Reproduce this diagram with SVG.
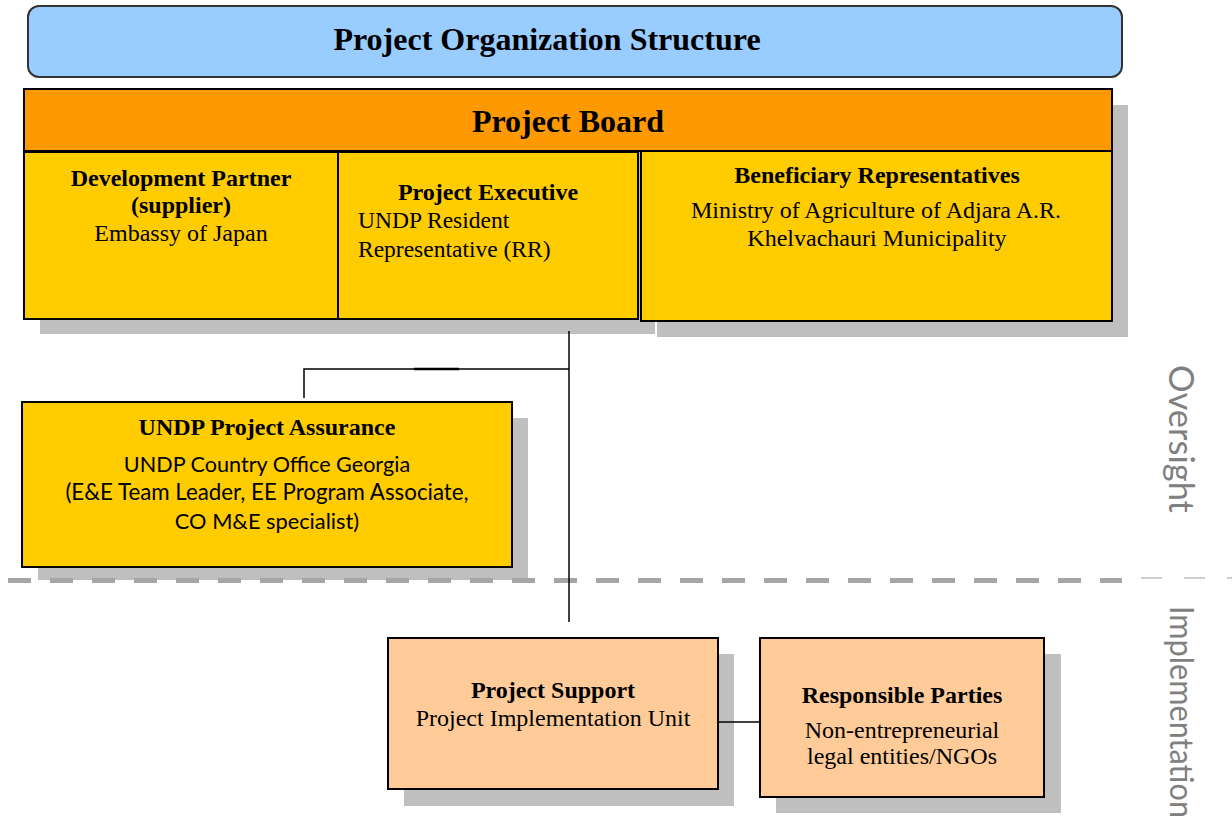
<svg xmlns="http://www.w3.org/2000/svg" width="1232" height="829" viewBox="0 0 1232 829">
  <style>
    .shadow { fill: #BFBFBF; }
    .box { stroke: #000; stroke-width: 2; }
    .board { fill: #FF9900; }
    .member { fill: #FFCC00; }
    .impl { fill: #FFCC99; }
    .serif { font-family: "Liberation Serif", "Times New Roman", serif; fill: #000; }
    .b { font-weight: bold; }
    .sans { font-family: Lato, "Open Sans", sans-serif; fill: #000; }
    .side { font-family: Lato, "Open Sans", sans-serif; font-weight: normal; fill: #808080; }
    .link { stroke: #000; stroke-width: 1.5; fill: none; }
    .mid { text-anchor: middle; }
  </style>

  <rect width="1232" height="829" fill="#FFFFFF"/>

  <!-- title banner -->
  <g id="title">
    <rect x="28" y="6" width="1094" height="71" rx="11" ry="11" fill="#99CCFF" stroke="#333" stroke-width="2"/>
    <text class="serif b mid" x="547" y="50" font-size="32">Project Organization Structure</text>
  </g>

  <!-- drop shadows of the board block -->
  <rect class="shadow" x="40" y="105" width="1088" height="62"/>
  <rect class="shadow" x="40" y="167" width="615" height="167"/>
  <rect class="shadow" x="657" y="167" width="471" height="170"/>

  <g id="project-board">
    <rect class="box board" x="24" y="89" width="1088" height="62"/>
    <text class="serif b mid" x="568" y="132" font-size="32">Project Board</text>
  </g>

  <g id="development-partner">
    <rect class="box member" x="24" y="152" width="314" height="167"/>
    <text class="serif b mid" x="181" y="186" font-size="24">Development Partner</text>
    <text class="serif b mid" x="181" y="213" font-size="24">(supplier)</text>
    <text class="serif mid" x="181" y="241" font-size="24">Embassy of Japan</text>
  </g>

  <g id="project-executive">
    <rect class="box member" x="338" y="152" width="300" height="167"/>
    <text class="serif b mid" x="488" y="200" font-size="24">Project Executive</text>
    <text class="serif" x="358" y="228" font-size="23.5">UNDP Resident</text>
    <text class="serif" x="358" y="257" font-size="23.5">Representative (RR)</text>
  </g>

  <g id="beneficiary-representatives">
    <rect class="box member" x="641" y="151" width="471" height="170"/>
    <text class="serif b mid" x="877" y="183" font-size="24">Beneficiary Representatives</text>
    <text class="serif mid" x="876" y="218" font-size="24">Ministry of Agriculture of Adjara A.R.</text>
    <text class="serif mid" x="877" y="246" font-size="24">Khelvachauri Municipality</text>
  </g>

  <g id="project-assurance">
    <rect class="shadow" x="38" y="418" width="490" height="162"/>
    <rect class="box member" x="22" y="402" width="490" height="165"/>
    <text class="serif b mid" x="267" y="435" font-size="24">UNDP Project Assurance</text>
    <text class="sans mid" x="267" y="472" font-size="21.6">UNDP Country Office Georgia</text>
    <text class="sans mid" x="267" y="500" font-size="22.3">(E&amp;E Team Leader, EE Program Associate,</text>
    <text class="sans mid" x="267" y="529" font-size="21.8">CO M&amp;E specialist)</text>
  </g>

  <!-- oversight / implementation divider -->
  <g id="divider">
    <path d="M8 580.5 H1122" stroke="#A6A6A6" stroke-width="5" stroke-dasharray="23 19"/>
    <path d="M1141 578 H1232" stroke="#BFBFBF" stroke-width="1.5" stroke-dasharray="21 22"/>
  </g>

  <g id="project-support">
    <rect class="shadow" x="404" y="654" width="330" height="152"/>
    <rect class="box impl" x="388" y="638" width="330" height="151"/>
    <text class="serif b mid" x="553" y="698" font-size="24">Project Support</text>
    <text class="serif mid" x="553" y="726" font-size="24">Project Implementation Unit</text>
  </g>

  <g id="responsible-parties">
    <rect class="shadow" x="776" y="654" width="285" height="159"/>
    <rect class="box impl" x="760" y="638" width="284" height="159"/>
    <text class="serif b mid" x="902" y="703" font-size="24">Responsible Parties</text>
    <text class="serif mid" x="902" y="738" font-size="24">Non-entrepreneurial</text>
    <text class="serif mid" x="902" y="764" font-size="24">legal entities/NGOs</text>
  </g>

  <!-- connectors, drawn over shadows and the divider -->
  <g id="connectors">
    <path class="link" d="M569 331 V622"/>
    <path class="link" d="M569 369 H304 V398"/>
    <path d="M414 369 H459" stroke="#000" stroke-width="2.5"/>
    <path class="link" d="M719 722 H760" stroke-width="2"/>
  </g>

  <!-- vertical band labels -->
  <text class="side" font-size="35" transform="translate(1169 365) rotate(90)" textLength="148" lengthAdjust="spacingAndGlyphs">Oversight</text>
  <text class="side" font-size="32" transform="translate(1170 606) rotate(90)" textLength="212" lengthAdjust="spacingAndGlyphs">Implementation</text>
</svg>
